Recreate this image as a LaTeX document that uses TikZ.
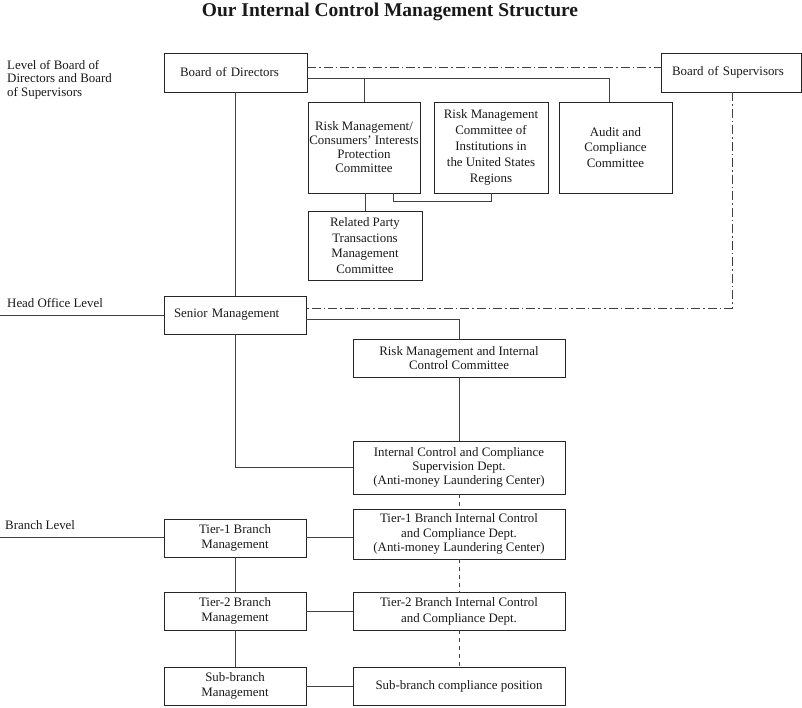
\documentclass[tikz,border=0pt]{standalone}
\usepackage{fontspec}
\setmainfont{Liberation Serif}

\begin{document}
\begin{tikzpicture}[x=1pt,y=-1pt,
    box/.style={draw=black!85, line width=0.8pt, inner sep=0pt, align=center, text=black!90,
      font=\fontsize{12.9}{14.3}\selectfont},
    loose/.style={font=\fontsize{12.9}{15.8}\selectfont},
    lvl/.style={inner sep=0pt, align=left, text=black!90, font=\fontsize{12.9}{13.6}\selectfont},
    link/.style={draw=black!75, line width=0.8pt},
    dashdot/.style={link, dash pattern=on 9pt off 3pt on 1.5pt off 3pt},
    dashline/.style={link, dash pattern=on 4pt off 4pt}]
  \useasboundingbox (0,0) rectangle (802,707);

  \node[anchor=base, text=black!90, font=\fontsize{19.5}{22}\selectfont\bfseries] (title) at (390,16.5)
    {Our Internal Control Management Structure};

  % levels on the left
  \node[lvl, anchor=north west] (lvlboard) at (7,60) {Level of Board of\\Directors and Board\\of Supervisors};
  \node[lvl, anchor=base west] (lvlhead) at (7,307) {Head Office Level};
  \node[lvl, anchor=base west] (lvlbranch) at (5,529) {Branch Level};

  % board level
  \node[box, text width=111pt, inner xsep=16pt, align=left, minimum height=39pt] (bod) at (235.5,72.5) {Board of Directors};
  \node[box, text width=118pt, inner xsep=11pt, align=left, minimum height=39pt] (bos) at (731,72.5) {Board of Supervisors};
  \node[box, minimum width=112pt, minimum height=91pt, font=\fontsize{12.9}{14}\selectfont] (rmc) at (364,147.5)
    {Risk Management/\\Consumers' Interests\\Protection\\Committee};
  \node[box, loose, minimum width=114pt, minimum height=91pt] (rmus) at (491,147.5)
    {Risk Management\\Committee of\\Institutions in\\the United States\\Regions};
  \node[box, loose, minimum width=113pt, minimum height=91pt] (audit) at (615.5,147.5)
    {Audit and\\Compliance\\Committee};
  \node[box, loose, minimum width=114pt, minimum height=69pt] (rpt) at (365,245.5)
    {Related Party\\Transactions\\Management\\Committee};

  % head office level
  \node[box, text width=122pt, inner xsep=10pt, align=left, minimum height=38pt] (sm) at (235,315) {Senior Management};
  \node[box, minimum width=212pt, minimum height=38pt] (rmic) at (459,358)
    {Risk Management and Internal\\Control Committee};
  \node[box, minimum width=212pt, minimum height=53pt] (iccs) at (459,467.5)
    {Internal Control and Compliance\\Supervision Dept.\\(Anti-money Laundering Center)};

  % branch level
  \node[box, loose, minimum width=142pt, minimum height=38pt] (tone) at (235,538) {Tier-1 Branch\\Management};
  \node[box, loose, minimum width=142pt, minimum height=38pt] (ttwo) at (235,611) {Tier-2 Branch\\Management};
  \node[box, loose, minimum width=142pt, minimum height=38pt] (sub) at (235,686) {Sub-branch\\Management};
  \node[box, minimum width=212pt, minimum height=50pt] (toneic) at (459,534)
    {Tier-1 Branch Internal Control\\and Compliance Dept.\\(Anti-money Laundering Center)};
  \node[box, loose, minimum width=212pt, minimum height=38pt] (ttwoic) at (459,611)
    {Tier-2 Branch Internal Control\\and Compliance Dept.};
  \node[box, minimum width=212pt, minimum height=38pt] (subic) at (459,686) {Sub-branch compliance position};

  % connectors
  \draw[dashdot] ([yshift=5.5pt]bod.east) -- ([yshift=5.5pt]bos.west);
  \draw[link] ([yshift=-5.5pt]bod.east) -| ([xshift=-6.5pt]audit.north);
  \draw[link] (rmc.north) -- ++(0,-24);
  \draw[link] (rpt.north) -- (rpt.north |- rmc.south);
  \draw[link] ([xshift=29pt]rmc.south) -- ++(0,8) -| (rmus.south);
  \draw[dashdot] ([xshift=1pt]bos.south) |- ([yshift=7pt]sm.east);
  \draw[link] (bod.south) -- (bod.south |- sm.north);
  \draw[link] ([yshift=-4pt]sm.east) -| (rmic.north);
  \draw[link] (rmic.south) -- (iccs.north);
  \draw[link] (sm.south) |- (iccs.west);
  \draw[dashline] (iccs.south) -- (toneic.north);
  \draw[dashline] (toneic.south) -- (ttwoic.north);
  \draw[dashline] (ttwoic.south) -- (subic.north);
  \draw[link] (tone.south) -- (ttwo.north);
  \draw[link] (ttwo.south) -- (sub.north);
  \draw[link] ([yshift=1pt]tone.east) -- ([yshift=1pt]tone.east -| toneic.west);
  \draw[link] (ttwo.east) -- (ttwoic.west);
  \draw[link] (sub.east) -- (subic.west);
  \draw[link] (sm.west) -- (sm.west -| 0,0);
  \draw[link] ([yshift=1pt]tone.west) -- ([yshift=1pt]tone.west -| 0,0);
\end{tikzpicture}
\end{document}
